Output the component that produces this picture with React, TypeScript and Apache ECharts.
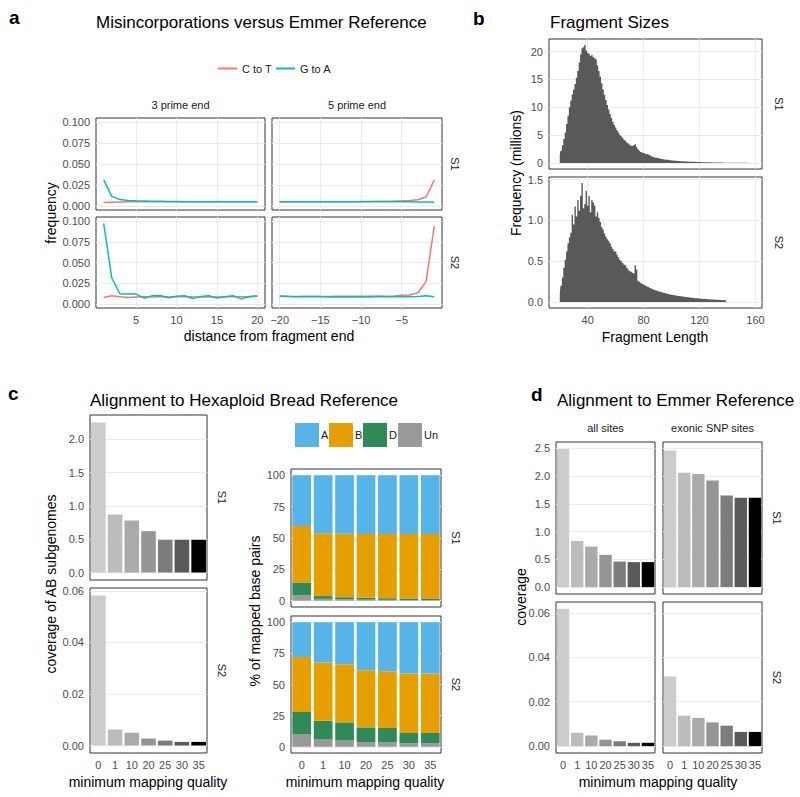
import React, { useEffect, useRef } from 'react';
import * as echarts from 'echarts';

const FONT = '"Liberation Sans", Arial, Helvetica, sans-serif';

// ---------- Panel a: misincorporations ----------
const distance3 = [1, 2, 3, 4, 5, 6, 7, 8, 9, 10, 11, 12, 13, 14, 15, 16, 17, 18, 19, 20];
const distance5 = [-20, -19, -18, -17, -16, -15, -14, -13, -12, -11, -10, -9, -8, -7, -6, -5, -4, -3, -2, -1];
const s1p3CtoT = [0.004, 0.0044, 0.0046, 0.0048, 0.0049, 0.005, 0.005, 0.005, 0.005, 0.005, 0.005, 0.005, 0.005, 0.005, 0.005, 0.005, 0.005, 0.005, 0.005, 0.005];
const s1p3GtoA = [0.031, 0.0113, 0.0075, 0.0065, 0.006, 0.0058, 0.0056, 0.0054, 0.0052, 0.0051, 0.005, 0.005, 0.005, 0.005, 0.005, 0.005, 0.005, 0.005, 0.005, 0.005];
const s1p5CtoT = [0.005, 0.005, 0.005, 0.005, 0.005, 0.005, 0.005, 0.005, 0.005, 0.005, 0.0052, 0.0053, 0.0054, 0.0055, 0.0057, 0.006, 0.0064, 0.0072, 0.0106, 0.031];
const s1p5GtoA = [0.005, 0.005, 0.005, 0.005, 0.005, 0.005, 0.005, 0.005, 0.005, 0.005, 0.005, 0.005, 0.005, 0.005, 0.0049, 0.0048, 0.0048, 0.0047, 0.0046, 0.0043];
const s2p3CtoT = [0.0077, 0.0097, 0.0085, 0.0078, 0.0083, 0.0088, 0.0084, 0.009, 0.0082, 0.0087, 0.0088, 0.0085, 0.0083, 0.0086, 0.0082, 0.0086, 0.0088, 0.0087, 0.0089, 0.0095];
const s2p3GtoA = [0.0972, 0.0313, 0.0122, 0.0118, 0.0118, 0.0069, 0.0097, 0.0102, 0.0073, 0.0092, 0.0098, 0.0065, 0.009, 0.0097, 0.007, 0.0085, 0.0098, 0.006, 0.0086, 0.0095];
const s2p5CtoT = [0.0095, 0.0092, 0.009, 0.0092, 0.0093, 0.0091, 0.009, 0.0092, 0.0093, 0.0091, 0.0092, 0.0093, 0.0094, 0.0092, 0.0095, 0.0105, 0.0108, 0.0135, 0.0272, 0.094];
const s2p5GtoA = [0.0093, 0.009, 0.0087, 0.0086, 0.0085, 0.0085, 0.0084, 0.0084, 0.0084, 0.0083, 0.0084, 0.0084, 0.0085, 0.0085, 0.0085, 0.0085, 0.0086, 0.0088, 0.0098, 0.0085];
const aYTicks = [0, 0.025, 0.05, 0.075, 0.1];
const a3XTicks = [5, 10, 15, 20];
const a5XTicks = [-20, -15, -10, -5];

// ---------- Panel b: fragment sizes (millions, 1 bp bins) ----------
const fragS1Start = 20;
const fragS1 = [
  1.5, 2.2, 3.2, 4.3, 5.5, 7.0, 8.5, 10.0, 11.2, 12.3,
  13.2, 14.2, 15.3, 16.5, 18.0, 19.5, 20.6, 20.8, 21.2, 20.2,
  19.8, 19.6, 19.2, 19.4, 19.0, 18.8, 18.6, 17.5, 16.5, 15.5,
  14.3, 13.2, 12.2, 11.3, 10.4, 9.6, 8.8, 8.1, 7.4, 6.9,
  6.4, 5.9, 5.5, 5.1, 4.8, 4.5, 4.2, 4.0, 3.7, 3.5,
  3.3, 3.1, 3.0, 3.2, 3.4, 2.9, 2.5, 2.2, 2.0, 1.9,
  1.8, 1.7, 1.6, 1.7, 1.5, 1.3, 1.2, 1.1, 1.0, 0.95,
  0.9, 0.85, 0.8, 0.75, 0.7, 0.66, 0.62, 0.58, 0.55, 0.52,
  0.49, 0.46, 0.43, 0.41, 0.39, 0.37, 0.35, 0.33, 0.31, 0.3,
  0.28, 0.27, 0.26, 0.25, 0.24, 0.23, 0.22, 0.21, 0.2, 0.19,
  0.18, 0.17, 0.16, 0.16, 0.15, 0.14, 0.14, 0.13, 0.12, 0.12,
  0.11, 0.11, 0.1, 0.1, 0.09, 0.09, 0.09, 0.08, 0.08, 0.08,
  0.07, 0.07, 0.07, 0.06, 0.06, 0.06, 0.06, 0.05, 0.05, 0.05,
  0.05, 0.04, 0.04, 0.04, 0.04, 0.03, 0.03, 0.03, 0.03,
];
const fragS2Start = 20;
const fragS2 = [
  0.1, 0.2, 0.3, 0.42, 0.52, 0.62, 0.72, 0.79, 0.85, 1.07,
  0.95, 1.17, 1.05, 1.25, 1.12, 1.3, 1.46, 1.15, 1.2, 1.36,
  1.18, 1.3, 1.1, 1.25, 1.22, 1.18, 1.05, 1.1, 1.03, 0.98,
  0.92, 0.89, 0.84, 0.8, 0.77, 0.75, 0.72, 0.68, 0.65, 0.62,
  0.62, 0.58, 0.55, 0.52, 0.5, 0.48, 0.46, 0.45, 0.42, 0.4,
  0.38, 0.37, 0.36, 0.35, 0.45, 0.4, 0.26, 0.25, 0.235, 0.225,
  0.215, 0.205, 0.195, 0.186, 0.178, 0.17, 0.162, 0.155, 0.148, 0.142,
  0.136, 0.13, 0.125, 0.12, 0.115, 0.11, 0.106, 0.102, 0.098, 0.094,
  0.09, 0.087, 0.084, 0.081, 0.078, 0.075, 0.072, 0.07, 0.067, 0.065,
  0.062, 0.06, 0.058, 0.056, 0.054, 0.052, 0.05, 0.048, 0.046, 0.045,
  0.043, 0.041, 0.04, 0.038, 0.037, 0.036, 0.034, 0.033, 0.032, 0.031,
  0.03, 0.029, 0.028, 0.027, 0.026, 0.025, 0.024, 0.023, 0.022, 0.021,
];
const bXTicks = [40, 80, 120, 160];
const bS1YTicks = [0, 5, 10, 15, 20];
const bS2YTicks = [0, 0.5, 1.0, 1.5];

// ---------- Panels c & d: mapping quality ----------
const mapq = ['0', '1', '10', '20', '25', '30', '35'];
const mapqGreys = ['#CCCCCC', '#BCBCBC', '#AAAAAA', '#959595', '#7C7C7C', '#5A5A5A', '#000000'];
const hexS1Coverage = [2.25, 0.87, 0.78, 0.62, 0.49, 0.49, 0.49];
const hexS2Coverage = [0.0582, 0.0062, 0.0049, 0.0027, 0.0019, 0.0014, 0.0014];
const genomes = ['A', 'B', 'D', 'Un'];
const genomeColors = ['#56B4E9', '#E69F00', '#2E8B57', '#999999'];
const s1PctA = [40.5, 46.3, 46.7, 46.8, 46.8, 46.8, 46.8];
const s1PctB = [44.9, 50.0, 50.5, 50.9, 51.2, 51.4, 51.4];
const s1PctD = [10.1, 2.2, 1.8, 1.5, 1.3, 1.2, 1.2];
const s1PctUn = [4.5, 1.5, 1.0, 0.8, 0.7, 0.6, 0.6];
const s2PctA = [27.9, 32.3, 33.7, 38.5, 39.3, 41.1, 41.1];
const s2PctB = [44.2, 46.8, 46.7, 45.9, 45.6, 47.8, 47.8];
const s2PctD = [18.1, 15.1, 14.6, 11.9, 11.6, 8.2, 8.2];
const s2PctUn = [9.8, 5.8, 5.0, 3.7, 3.5, 2.9, 2.9];
const emmerS1All = [2.49, 0.83, 0.73, 0.58, 0.46, 0.45, 0.45];
const emmerS1Exonic = [2.46, 2.06, 2.04, 1.92, 1.65, 1.61, 1.61];
const emmerS2All = [0.0618, 0.006, 0.0048, 0.0029, 0.0022, 0.0015, 0.0015];
const emmerS2Exonic = [0.0313, 0.0137, 0.0127, 0.0107, 0.0092, 0.0064, 0.0064];
const cS1YTicks = [0, 0.5, 1.0, 1.5, 2.0];
const cS2YTicks = [0, 0.02, 0.04, 0.06];
const pctTicks = [0, 25, 50, 75, 100];
const dS1YTicks = [0, 0.5, 1.0, 1.5, 2.0, 2.5];
const dS2YTicks = [0, 0.02, 0.04, 0.06];

// ---------- layout ----------
const grids = [
  { left: 96, top: 118, width: 169, height: 92 }, // 0 a S1 3'
  { left: 272, top: 118, width: 170, height: 92 }, // 1 a S1 5'
  { left: 96, top: 217, width: 169, height: 91 }, // 2 a S2 3'
  { left: 272, top: 217, width: 170, height: 91 }, // 3 a S2 5'
  { left: 549, top: 39, width: 213, height: 130 }, // 4 b S1
  { left: 549, top: 177, width: 213, height: 131 }, // 5 b S2
  { left: 90, top: 415, width: 117, height: 165 }, // 6 c left S1
  { left: 90, top: 588, width: 117, height: 165 }, // 7 c left S2
  { left: 291, top: 469, width: 150, height: 138 }, // 8 c right S1
  { left: 291, top: 616, width: 150, height: 137 }, // 9 c right S2
  { left: 556, top: 442, width: 99, height: 152 }, // 10 d all S1
  { left: 663, top: 442, width: 99, height: 152 }, // 11 d exonic S1
  { left: 556, top: 602, width: 99, height: 151 }, // 12 d all S2
  { left: 663, top: 602, width: 99, height: 151 }, // 13 d exonic S2
];
const genomeKeyLeft = [295, 329, 363, 398];

const tickText = { color: '#4D4D4D', fontSize: 11, fontFamily: FONT };
const minus = (v: number) => String(v).replace('-', '\u2212');

function valueAxis(gridIndex: number, min: number, max: number, ticks: number[], fmt: (v: number) => string, showLabels: boolean) {
  return {
    type: 'value', gridIndex, min, max,
    axisLine: { show: false },
    axisTick: { show: false, customValues: ticks },
    axisLabel: { show: showLabels, customValues: ticks, formatter: fmt, margin: 6, ...tickText },
    splitLine: { show: true, lineStyle: { color: '#EBEBEB', width: 1 } },
  };
}
function catAxis(gridIndex: number, showLabels: boolean) {
  return {
    type: 'category', gridIndex, data: mapq,
    axisLine: { show: false }, axisTick: { show: false },
    axisLabel: { show: showLabels, interval: 0, margin: 6, ...tickText },
    splitLine: { show: false },
  };
}

function buildOption() {
  const f3 = (v: number) => v.toFixed(3);
  const f1 = (v: number) => v.toFixed(1);
  const f2 = (v: number) => v.toFixed(2);
  const f0 = (v: number) => String(v);

  const xAxis: any[] = [
    valueAxis(0, 0.05, 20.95, a3XTicks, minus, false),
    valueAxis(1, -20.95, -0.05, a5XTicks, minus, false),
    valueAxis(2, 0.05, 20.95, a3XTicks, minus, true),
    valueAxis(3, -20.95, -0.05, a5XTicks, minus, true),
    valueAxis(4, 12.3, 164.7, bXTicks, f0, false),
    valueAxis(5, 12.3, 164.7, bXTicks, f0, true),
    catAxis(6, false), catAxis(7, true),
    catAxis(8, false), catAxis(9, true),
    catAxis(10, false), catAxis(11, false), catAxis(12, true), catAxis(13, true),
  ];
  const yAxis: any[] = [
    valueAxis(0, -0.005, 0.105, aYTicks, f3, true),
    valueAxis(1, -0.005, 0.105, aYTicks, f3, false),
    valueAxis(2, -0.005, 0.105, aYTicks, f3, true),
    valueAxis(3, -0.005, 0.105, aYTicks, f3, false),
    valueAxis(4, -1.06, 22.26, bS1YTicks, f0, true),
    valueAxis(5, -0.073, 1.533, bS2YTicks, f1, true),
    valueAxis(6, -0.1125, 2.3625, cS1YTicks, f1, true),
    valueAxis(7, -0.00291, 0.06111, cS2YTicks, f2, true),
    valueAxis(8, -5, 105, pctTicks, f0, true),
    valueAxis(9, -5, 105, pctTicks, f0, true),
    valueAxis(10, -0.1245, 2.6145, dS1YTicks, f1, true),
    valueAxis(11, -0.1245, 2.6145, dS1YTicks, f1, false),
    valueAxis(12, -0.00309, 0.06489, dS2YTicks, f2, true),
    valueAxis(13, -0.00309, 0.06489, dS2YTicks, f2, false),
  ];

  const line = (name: string, color: string, xs: number[], ys: number[], idx: number) => ({
    type: 'line', name, xAxisIndex: idx, yAxisIndex: idx,
    data: xs.map((x, i) => [x, ys[i]]),
    symbol: 'none', showSymbol: false,
    lineStyle: { color, width: 1.5 }, itemStyle: { color }, z: 3,
  });
  const RED = '#F8766D';
  const TEAL = '#00BFC4';
  const hist = (start: number, vals: number[], idx: number) => ({
    type: 'line', name: 'hist' + idx, xAxisIndex: idx, yAxisIndex: idx,
    data: vals.map((v, i) => [start + i, v]),
    step: 'middle', symbol: 'none', showSymbol: false,
    lineStyle: { width: 0, color: '#595959' },
    itemStyle: { color: '#595959' },
    areaStyle: { color: '#595959', opacity: 1 }, z: 3,
  });
  const greyBars = (vals: number[], idx: number) => ({
    type: 'bar', name: 'cov' + idx, xAxisIndex: idx, yAxisIndex: idx,
    barWidth: '87.5%',
    data: vals.map((v, i) => ({ value: v, itemStyle: { color: mapqGreys[i] } })),
    z: 3,
  });
  const stackBar = (gi: number, vals: number[], idx: number) => ({
    type: 'bar', name: genomes[gi], xAxisIndex: idx, yAxisIndex: idx,
    stack: 'pct' + idx, barWidth: '87.5%',
    itemStyle: { color: genomeColors[gi] },
    data: vals, z: 3,
  });

  const series: any[] = [
    line('C to T', RED, distance3, s1p3CtoT, 0), line('G to A', TEAL, distance3, s1p3GtoA, 0),
    line('C to T', RED, distance5, s1p5CtoT, 1), line('G to A', TEAL, distance5, s1p5GtoA, 1),
    line('C to T', RED, distance3, s2p3CtoT, 2), line('G to A', TEAL, distance3, s2p3GtoA, 2),
    line('C to T', RED, distance5, s2p5CtoT, 3), line('G to A', TEAL, distance5, s2p5GtoA, 3),
    hist(fragS1Start, fragS1, 4), hist(fragS2Start, fragS2, 5),
    greyBars(hexS1Coverage, 6), greyBars(hexS2Coverage, 7),
    stackBar(3, s1PctUn, 8), stackBar(2, s1PctD, 8), stackBar(1, s1PctB, 8), stackBar(0, s1PctA, 8),
    stackBar(3, s2PctUn, 9), stackBar(2, s2PctD, 9), stackBar(1, s2PctB, 9), stackBar(0, s2PctA, 9),
    greyBars(emmerS1All, 10), greyBars(emmerS1Exonic, 11),
    greyBars(emmerS2All, 12), greyBars(emmerS2Exonic, 13),
  ];

  const txt = (text: string, x: number, y: number, size: number, o: any = {}) => ({
    type: 'text', x, y, rotation: o.rot || 0, silent: true,
    style: {
      text, fontSize: size, fontFamily: FONT, fontWeight: o.bold ? 'bold' : 'normal',
      fill: o.color || '#000000', align: o.align || 'center', verticalAlign: 'middle',
    },
  });
  const UP = Math.PI / 2;
  const DOWN = -Math.PI / 2;
  const STRIP = '#1A1A1A';

  const genomeKeys: any[] = [];
  genomes.forEach((g, i) => {
    genomeKeys.push({
      type: 'rect', silent: true,
      shape: { x: genomeKeyLeft[i], y: 423, width: 24, height: 24 },
      style: { fill: genomeColors[i] },
    });
    genomeKeys.push(txt(g, genomeKeyLeft[i] + 26, 435, 11, { color: STRIP, align: 'left' }));
  });

  const graphic: any[] = [
    txt('a', 9, 17, 19, { bold: true, align: 'left' }),
    txt('b', 473, 18, 19, { bold: true, align: 'left' }),
    txt('c', 8, 393, 19, { bold: true, align: 'left' }),
    txt('d', 531, 394, 19, { bold: true, align: 'left' }),
    txt('Misincorporations versus Emmer Reference', 96, 22, 17, { align: 'left' }),
    txt('Fragment Sizes', 550, 22, 17, { align: 'left' }),
    txt('Alignment to Hexaploid Bread Reference', 90, 400, 17, { align: 'left' }),
    txt('Alignment to Emmer Reference', 557, 400, 17, { align: 'left' }),
    // axis titles
    txt('frequency', 51, 213, 14, { rot: UP }),
    txt('distance from fragment end', 269, 336, 14),
    txt('Frequency (millions)', 516, 173, 14, { rot: UP }),
    txt('Fragment Length', 655, 337, 14),
    txt('coverage of AB subgenomes', 51, 584, 14, { rot: UP }),
    txt('minimum mapping quality', 148, 782, 14),
    txt('% of mapped base pairs', 255, 611, 14, { rot: UP }),
    txt('minimum mapping quality', 365, 782, 14),
    txt('coverage', 521, 597, 14, { rot: UP }),
    txt('minimum mapping quality', 658, 782, 14),
    // strips
    txt('3 prime end', 180.5, 105, 11, { color: STRIP }),
    txt('5 prime end', 357, 105, 11, { color: STRIP }),
    txt('S1', 455, 164, 11, { color: STRIP, rot: DOWN }),
    txt('S2', 455, 262.5, 11, { color: STRIP, rot: DOWN }),
    txt('S1', 779, 104, 11, { color: STRIP, rot: DOWN }),
    txt('S2', 779, 242.5, 11, { color: STRIP, rot: DOWN }),
    txt('S1', 222, 497.5, 11, { color: STRIP, rot: DOWN }),
    txt('S2', 222, 670.5, 11, { color: STRIP, rot: DOWN }),
    txt('S1', 456, 538, 11, { color: STRIP, rot: DOWN }),
    txt('S2', 456, 684.5, 11, { color: STRIP, rot: DOWN }),
    txt('all sites', 605.5, 428, 11, { color: STRIP }),
    txt('exonic SNP sites', 712.5, 428, 11, { color: STRIP }),
    txt('S1', 777, 518, 11, { color: STRIP, rot: DOWN }),
    txt('S2', 777, 677.5, 11, { color: STRIP, rot: DOWN }),
    ...genomeKeys,
  ];

  const legend: any[] = [
    {
      data: ['C to T', 'G to A'], left: 213, top: 58, itemWidth: 19, itemHeight: 2, itemGap: 4,
      icon: 'rect', selectedMode: false, textStyle: { fontSize: 11, color: STRIP, fontFamily: FONT },
    },
  ];

  return {
    animation: false,
    backgroundColor: '#ffffff',
    textStyle: { fontFamily: FONT },
    grid: grids.map((g) => ({ ...g, show: true, borderColor: '#333333', borderWidth: 1, backgroundColor: '#ffffff', containLabel: false })),
    xAxis, yAxis, series, graphic, legend,
  };
}

export default function App() {
  const ref = useRef<HTMLDivElement>(null);
  useEffect(() => {
    if (!ref.current) return;
    const chart = echarts.init(ref.current, null, { renderer: 'svg' });
    chart.setOption(buildOption() as any);
    return () => chart.dispose();
  }, []);
  return <div ref={ref} style={{ position: 'fixed', left: 0, top: 0, width: 800, height: 797, background: '#fff' }} />;
}
